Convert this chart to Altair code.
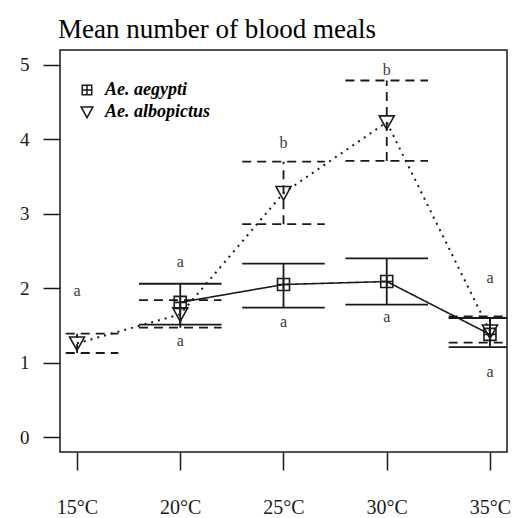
import altair as alt
import pandas as pd

# Rearing temperature (°C) and mean blood meals with error-bar limits
temps = [15, 20, 25, 30, 35]
aegypti_mean = [None, 1.81, 2.05, 2.09, 1.38]
aegypti_low = [None, 1.51, 1.74, 1.78, 1.21]
aegypti_high = [None, 2.06, 2.33, 2.40, 1.60]
albopictus_mean = [1.26, 1.65, 3.28, 4.23, 1.42]
albopictus_low = [1.13, 1.47, 2.86, 3.71, 1.27]
albopictus_high = [1.39, 1.84, 3.70, 4.79, 1.62]

# Significance letters and the height at which each is written
letter_temps = [15, 20, 20, 25, 25, 30, 30, 35, 35]
letter_text = ["a", "a", "a", "b", "a", "b", "a", "a", "a"]
letter_y = [1.96, 2.35, 1.29, 3.95, 1.54, 4.93, 1.61, 2.14, 0.88]

species = ["Ae. aegypti", "Ae. albopictus"]
CAP_HALF = 2  # half-width of the error-bar caps, in °C

rows = []
for name, m, lo, hi in [
    (species[0], aegypti_mean, aegypti_low, aegypti_high),
    (species[1], albopictus_mean, albopictus_low, albopictus_high),
]:
    for t, a, b, c in zip(temps, m, lo, hi):
        if a is not None:
            rows.append({"temp": t, "mean": a, "low": b, "high": c, "species": name})
df = pd.DataFrame(rows)
letters = pd.DataFrame({"temp": letter_temps, "label": letter_text, "y": letter_y})

SERIF = "Liberation Serif"
INK = "#1a1a1a"

x_enc = alt.X(
    "temp:Q",
    scale=alt.Scale(domain=[14.175, 35.825], nice=False, zero=False),
    axis=alt.Axis(
        values=temps, labelExpr="datum.value + '°C'", tickSize=18,
        labelPadding=27, labelFontSize=20, title=None,
    ),
)
y_scale = alt.Scale(domain=[-0.2, 5.2], nice=False, zero=False)
y_axis = alt.Axis(values=[0, 1, 2, 3, 4, 5], format="d", tickSize=17,
                  labelPadding=14, labelFontSize=19, title=None)

base = alt.Chart(df)

square_plus = "M-0.8,-0.8H0.8V0.8H-0.8Z M0,-0.8V0.8 M-0.8,0H0.8"
tri_down = "M-1,-0.85H1L0,0.95Z"


def species_layers(name, dash_bar, dash_line, line_width):
    sub = base.transform_filter(alt.datum.species == name)
    stem = sub.mark_rule(color=INK, strokeWidth=1.8, strokeDash=dash_bar, clip=True).encode(
        x=x_enc,
        y=alt.Y("low:Q", scale=y_scale, axis=y_axis),
        y2="high:Q",
    )
    caps = (
        sub.transform_fold(["low", "high"], as_=["end", "val"])
        .transform_calculate(left=f"datum.temp - {CAP_HALF}", right=f"datum.temp + {CAP_HALF}")
        .mark_rule(color=INK, strokeWidth=1.8, strokeDash=dash_bar, clip=True)
        .encode(x="left:Q", x2="right:Q", y=alt.Y("val:Q", scale=y_scale))
    )
    line = sub.mark_line(color=INK, strokeWidth=line_width, strokeDash=dash_line, clip=True).encode(
        x=x_enc, y=alt.Y("mean:Q", scale=y_scale)
    )
    return [stem, caps, line]


layers = []
layers += species_layers(species[0], [1, 0], [1, 0], 1.6)
layers += species_layers(species[1], [9, 6], [2, 5], 2)

points = base.mark_point(filled=False, stroke=INK, strokeWidth=1.6, size=225, opacity=1).encode(
    x=x_enc,
    y=alt.Y("mean:Q", scale=y_scale),
    shape=alt.Shape(
        "species:N",
        scale=alt.Scale(domain=species, range=[square_plus, tri_down]),
        legend=alt.Legend(
            title=None, orient="none", legendX=18, legendY=31,
            labelFont=SERIF, labelFontSize=18, labelFontStyle="italic",
            labelFontWeight="bold", labelColor="black", labelOffset=9,
            symbolSize=140, symbolStrokeColor=INK, symbolFillColor="transparent",
            symbolStrokeWidth=1.5, rowPadding=4,
        ),
    ),
)

letter_marks = alt.Chart(letters).mark_text(
    font=SERIF, fontSize=16, color="#3a3a3a", baseline="middle"
).encode(x=x_enc, y=alt.Y("y:Q", scale=y_scale), text="label:N")

chart = (
    alt.layer(*layers, points, letter_marks)
    .properties(
        width=447,
        height=402,
        autosize=alt.AutoSizeParams(type="none"),
        padding={"left": 60, "top": 50, "right": 13, "bottom": 66},
        title=alt.TitleParams(
            "Mean number of blood meals", anchor="start", frame="group",
            font=SERIF, fontSize=27, fontWeight="normal", color="black",
            offset=15, baseline="alphabetic", dx=-2, dy=30,
        ),
    )
    .configure_view(stroke=INK, strokeWidth=1.5)
    .configure_axis(
        labelFont=SERIF, labelColor=INK, tickColor=INK, tickWidth=1.5,
        domain=False, grid=False,
    )
)

chart.save("out.html", embed_options={"renderer": "svg", "actions": False})
